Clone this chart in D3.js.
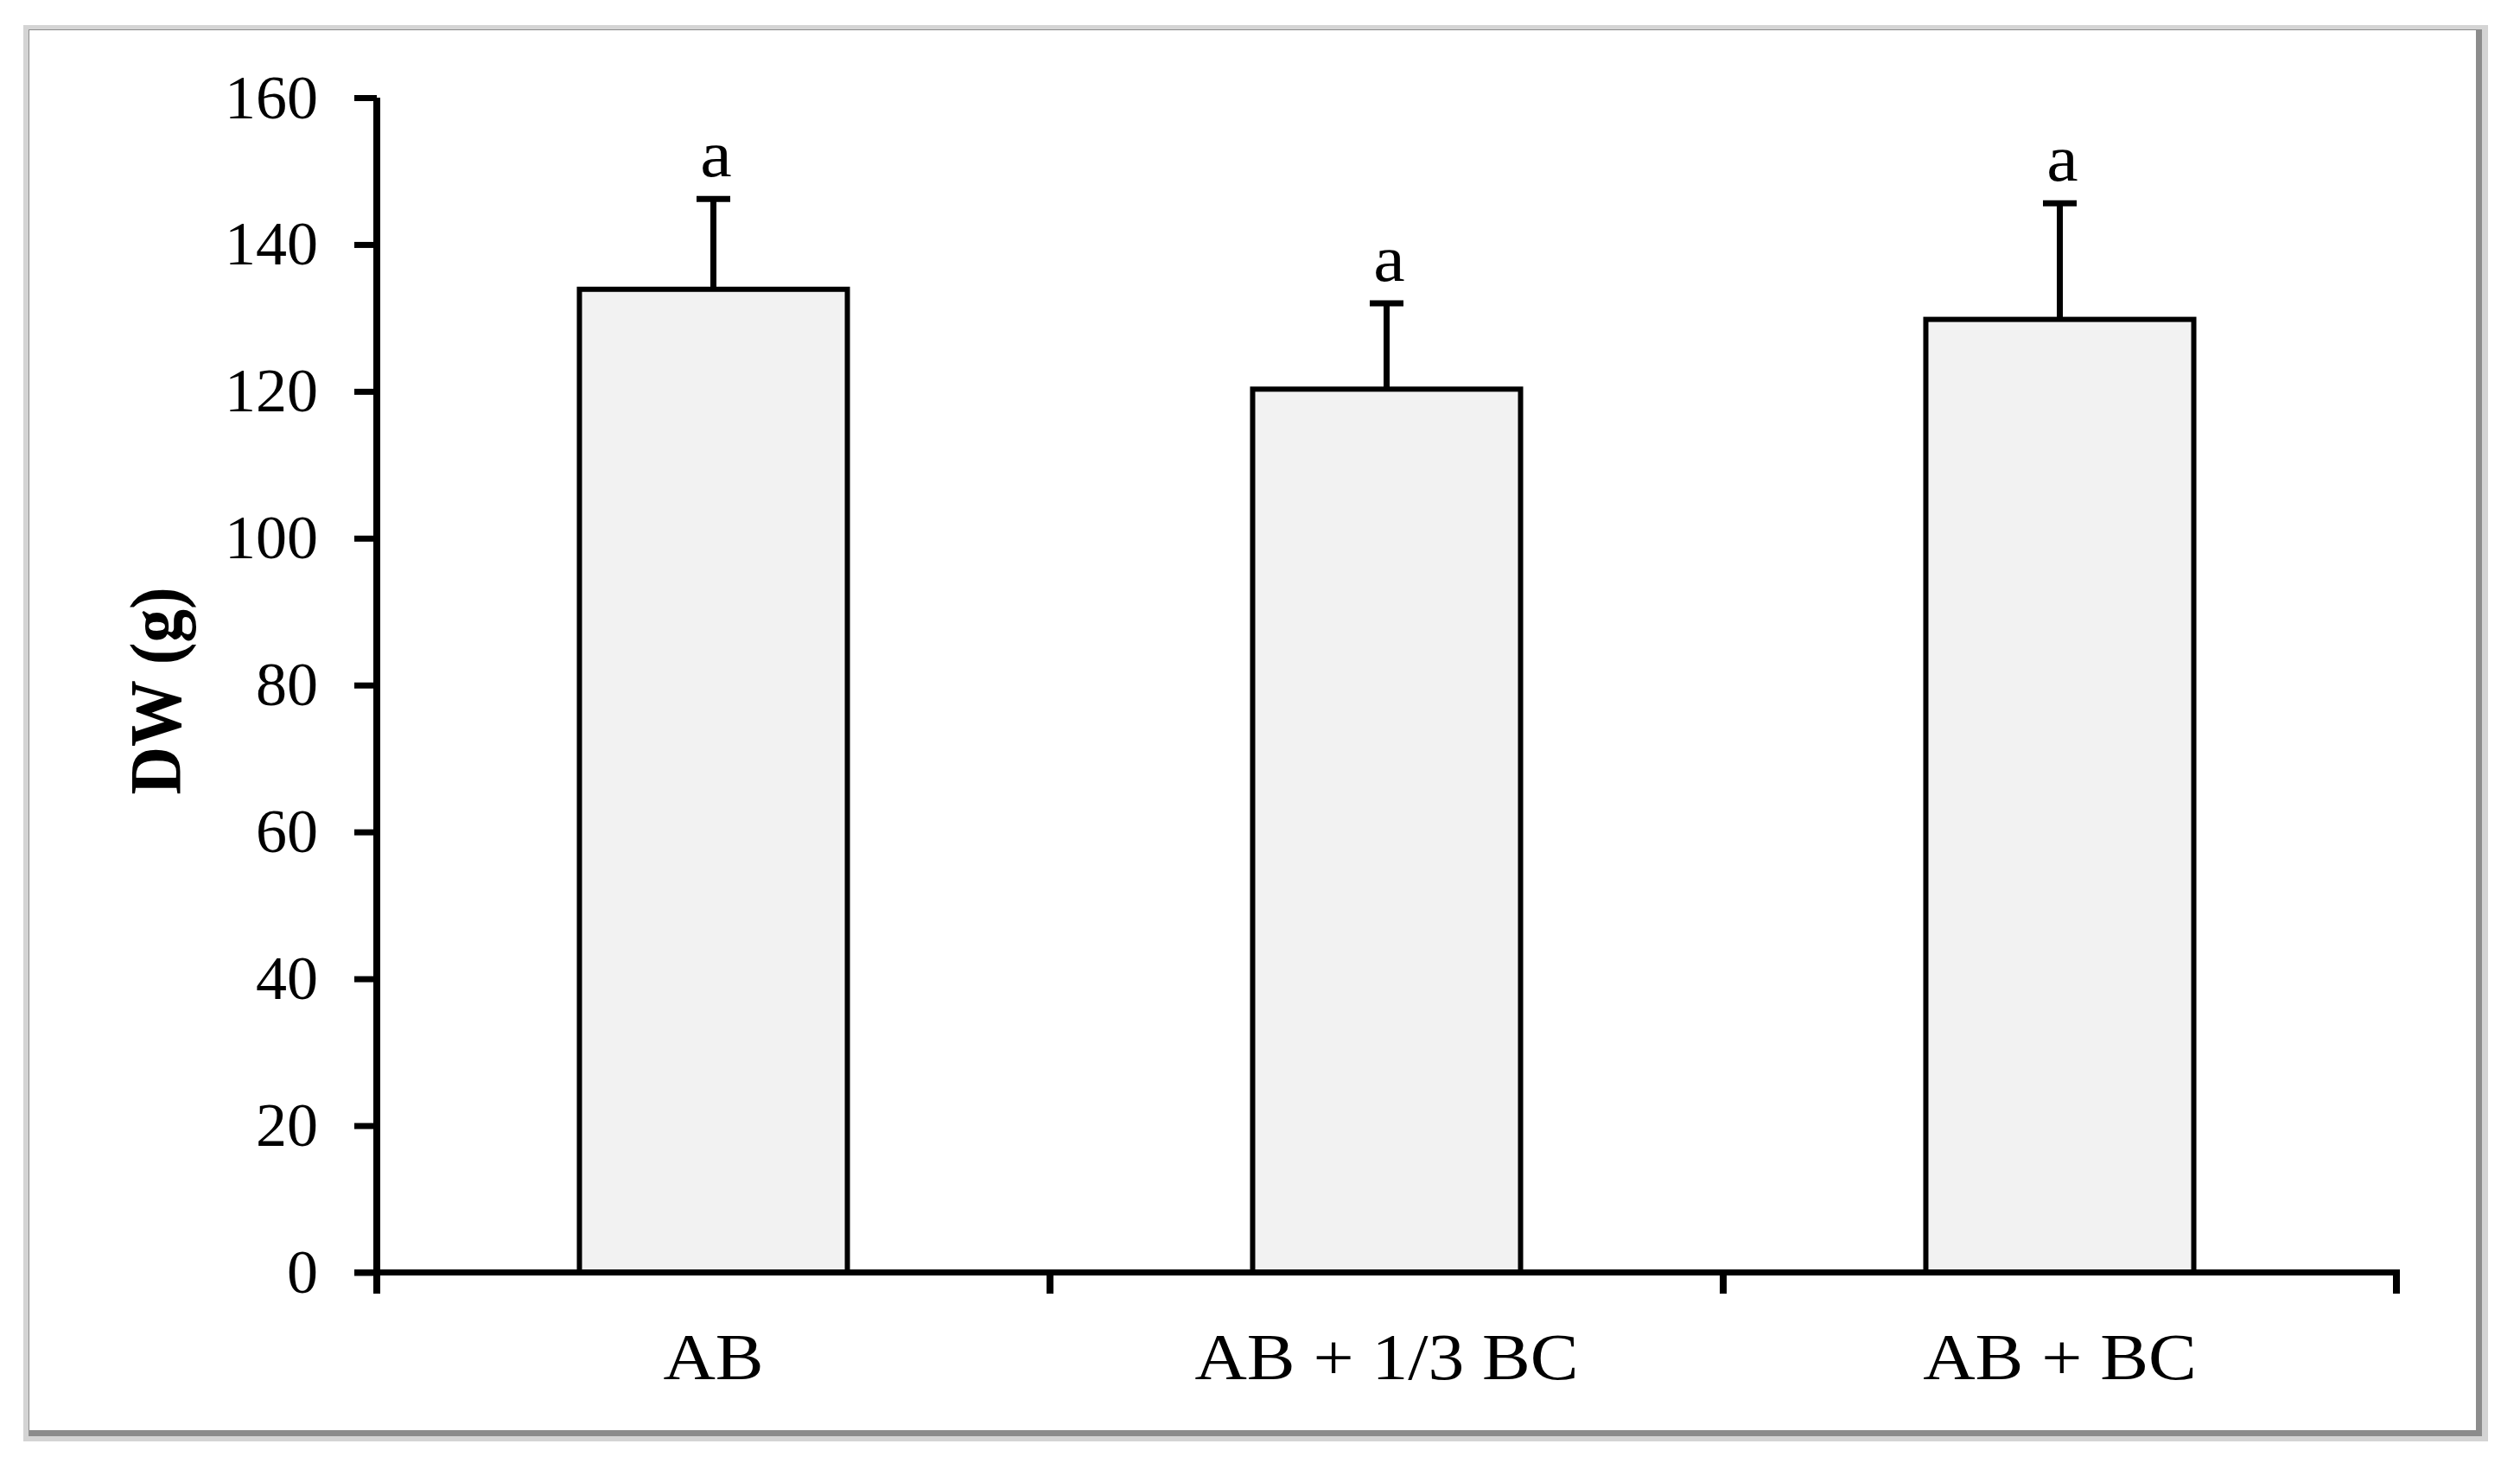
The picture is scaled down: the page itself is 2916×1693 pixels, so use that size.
<!DOCTYPE html>
<html>
<head>
<meta charset="utf-8">
<script src="https://cdn.jsdelivr.net/npm/d3@7"></script>
<style>
  html, body { margin: 0; padding: 0; background: #fff; }
  svg { display: block; }
  text { font-family: "Liberation Serif", "Times New Roman", serif; fill: #000; }
</style>
</head>
<body>
<script>
const categories = ["AB", "AB + 1/3 BC", "AB + BC"];
const means = [133.9, 120.3, 129.8];
const errors = [12.3, 11.7, 15.8];
const letters = ["a", "a", "a"];
const yTicks = [0, 20, 40, 60, 80, 100, 120, 140, 160];
const yTitle = "DW (g)";

(function () {
const W = 2916, H = 1693;
const svg = d3.select("body").append("svg").attr("width", W).attr("height", H);

// frame with shadow
svg.append("rect").attr("x", 27).attr("y", 29).attr("width", 2879 - 27).attr("height", 1668 - 29).attr("fill", "#d4d4d4");
svg.append("rect").attr("x", 33).attr("y", 34).attr("width", 2872 - 33).attr("height", 1662 - 34).attr("fill", "#8c8c8c");
svg.append("rect").attr("x", 34).attr("y", 35).attr("width", 2865 - 34).attr("height", 1655 - 35).attr("fill", "#ffffff");

const mLeft = 436, mRight = 2773, mTop = 113, mBottom = 1472.5;

const y = d3.scaleLinear().domain([0, 160]).range([mBottom, mTop]);
const x = d3.scaleBand().domain(categories).range([mLeft, mRight]).padding(0);
const barW = x.bandwidth() * 0.398;

// bars
svg.append("g").selectAll("rect").data(categories).join("rect")
  .attr("x", (d) => x(d) + (x.bandwidth() - barW) / 2)
  .attr("y", (d, i) => y(means[i]))
  .attr("width", barW)
  .attr("height", (d, i) => y(0) - y(means[i]))
  .attr("fill", "#f2f2f2")
  .attr("stroke", "#000")
  .attr("stroke-width", 6);

// error bars
const eg = svg.append("g").attr("stroke", "#000").attr("stroke-width", 7);
categories.forEach((c, i) => {
  const cx = x(c) + x.bandwidth() / 2;
  eg.append("line").attr("x1", cx).attr("x2", cx)
    .attr("y1", y(means[i])).attr("y2", y(means[i] + errors[i]));
  eg.append("line").attr("x1", cx - 19.5).attr("x2", cx + 19.5)
    .attr("y1", y(means[i] + errors[i])).attr("y2", y(means[i] + errors[i]));
});

// significance letters
svg.append("g").selectAll("text").data(letters).join("text")
  .attr("transform", (d, i) => `translate(${x(categories[i]) + x.bandwidth() / 2 + 3},${y(means[i] + errors[i]) - 26}) scale(1.08,1)`)
  .attr("text-anchor", "middle")
  .attr("font-size", 76)
  .text((d) => d);

// y axis
const yAxis = d3.axisLeft(y).tickValues(yTicks).tickSize(26).tickPadding(42).tickFormat(d3.format("d"));
const yg = svg.append("g").attr("transform", `translate(${mLeft},0)`).call(yAxis);
yg.select(".domain").attr("d", `M0,${mTop}V${mBottom + 24.5}`).attr("stroke", "#000").attr("stroke-width", 8);
yg.selectAll(".tick line").attr("stroke", "#000").attr("stroke-width", 7);
yg.selectAll(".tick text").attr("font-size", 72).attr("font-family", "Liberation Serif, Times New Roman, serif").attr("fill", "#000");

// x axis (labels)
const xAxis = d3.axisBottom(x).tickSize(0).tickPadding(70);
const xg = svg.append("g").attr("transform", `translate(0,${mBottom})`).call(xAxis);
xg.select(".domain").attr("d", `M${mLeft - 26},0H${mRight + 4}`).attr("stroke", "#000").attr("stroke-width", 7);
xg.selectAll(".tick text").attr("font-size", 76).attr("font-family", "Liberation Serif, Times New Roman, serif").attr("fill", "#000")
  .attr("transform", "scale(1.1,1)");

// x boundary ticks
const bounds = categories.map((c) => x(c)).concat([x(categories[categories.length - 1]) + x.bandwidth()]);
svg.append("g").selectAll("line").data(bounds).join("line")
  .attr("x1", (d) => d).attr("x2", (d) => d)
  .attr("y1", mBottom).attr("y2", mBottom + 24.5)
  .attr("stroke", "#000").attr("stroke-width", 8);

// y title
svg.append("text")
  .attr("transform", `translate(209,799.5) rotate(-90) scale(1,1.1)`)
  .attr("text-anchor", "middle")
  .attr("font-size", 77)
  .attr("font-weight", "bold")
  .text(yTitle);
})();
</script>
</body>
</html>
